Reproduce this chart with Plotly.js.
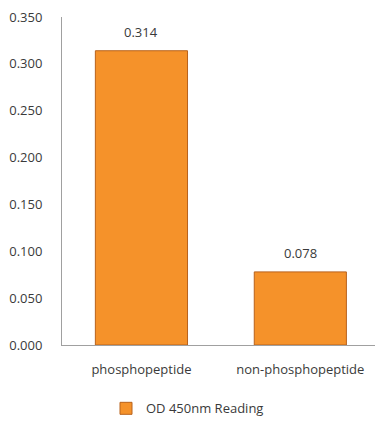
<!DOCTYPE html>
<html><head><meta charset="utf-8">
<script src="https://cdn.plot.ly/plotly-3.0.1.min.js"></script>
<style>html,body{margin:0;padding:0;background:#fff}#c{width:375px;height:421px}</style>
</head><body><div id="c"></div>
<script>
const categories = ["phosphopeptide", "non-phosphopeptide"];
const values = [0.314, 0.078];
const labels = ["0.314", "0.078"];
const seriesName = "OD 450nm Reading";
const tickVals = [0, 0.05, 0.1, 0.15, 0.2, 0.25, 0.3, 0.35];
const tickText = ["0.000", "0.050", "0.100", "0.150", "0.200", "0.250", "0.300", "0.350"];

const font = {family: "Open Sans, Lato, sans-serif", size: 13, color: "#3a3a3a"};

Plotly.newPlot("c", [{
  type: "bar", x: categories, y: values, name: seriesName,
  marker: {color: "#F5922A", line: {color: "#B8621C", width: 1}},
  width: 0.58, showlegend: true
}], {
  width: 375, height: 421,
  margin: {l: 62, r: 0, t: 17, b: 76},
  paper_bgcolor: "#fff", plot_bgcolor: "#fff",
  font: font,
  showlegend: true,
  legend: {orientation: "h", xref: "container", yref: "container", x: 0.5, xanchor: "center", y: 0.03, yanchor: "middle", font: font, itemwidth: 30},
  xaxis: {range: [-0.5, 1.47], showline: true, linecolor: "#a0a0a0", linewidth: 1, ticks: "", showgrid: false, tickfont: font, ticklabelstandoff: 12, fixedrange: true},
  yaxis: {range: [0, 0.35], tickvals: tickVals, ticktext: tickText, showline: true, linecolor: "#a0a0a0", linewidth: 1, ticks: "", showgrid: false, zeroline: false, tickfont: font, ticklabelstandoff: 16},
  annotations: categories.map((c, i) => ({x: c, y: values[i], text: labels[i], showarrow: false, yanchor: "bottom", yshift: 8, font: font}))
}, {displayModeBar: false, staticPlot: true});
</script></body></html>
